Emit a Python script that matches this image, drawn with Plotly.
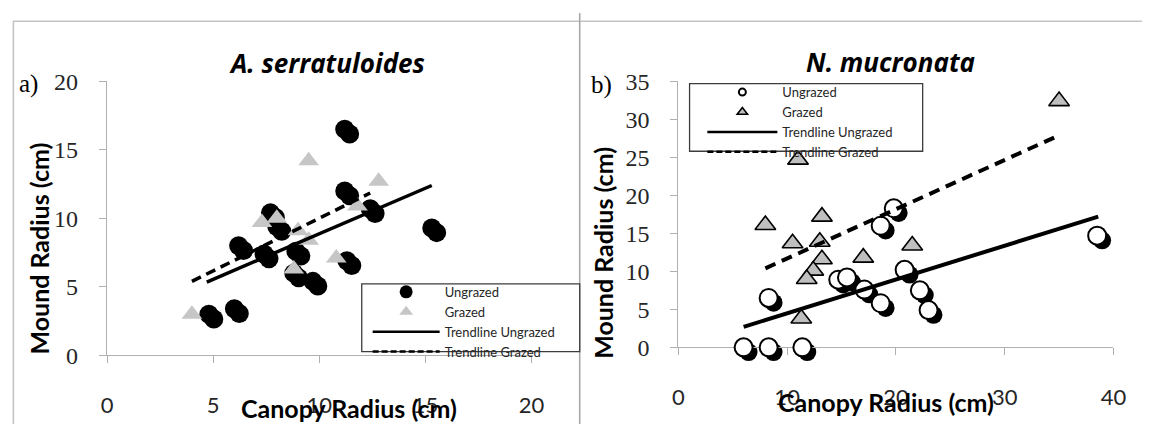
import plotly.graph_objects as go

# ---------------- data ----------------
# Panel a) A. serratuloides
a_ungrazed_x = [11.2, 11.2, 12.4, 15.3, 11.3, 9.7, 8.8, 8.9, 7.4, 6.2, 7.7, 8.0, 4.8, 6.0]
a_ungrazed_y = [16.5, 12.0, 10.7, 9.3, 6.9, 5.4, 6.0, 7.6, 7.4, 8.0, 10.4, 9.4, 3.0, 3.4]
a_grazed_x = [9.5, 12.8, 11.8, 7.3, 8.0, 9.0, 9.5, 10.8, 8.8, 4.0]
a_grazed_y = [14.2, 12.7, 10.9, 9.7, 10.0, 9.1, 8.4, 7.1, 6.3, 3.0]
a_trend_ungrazed_x = [4.7, 15.3]
a_trend_ungrazed_y = [5.35, 12.4]
a_trend_grazed_x = [4.0, 12.4]
a_trend_grazed_y = [5.4, 11.85]

# Panel b) N. mucronata
b_ungrazed_x = [6.0, 8.3, 11.4, 8.3, 14.7, 15.5, 17.1, 18.6, 18.6, 19.8, 20.8, 22.2, 23.0, 38.5]
b_ungrazed_y = [0.0, 0.0, 0.0, 6.5, 8.9, 9.2, 7.6, 5.8, 16.0, 18.3, 10.2, 7.5, 4.9, 14.7]
b_grazed_x = [35.0, 11.0, 8.0, 13.2, 10.5, 13.0, 13.2, 12.4, 11.8, 17.0, 21.5, 11.3]
b_grazed_y = [32.4, 24.7, 16.1, 17.2, 13.7, 13.9, 11.6, 10.1, 9.0, 11.8, 13.4, 3.8]
b_trend_ungrazed_x = [6.0, 38.6]
b_trend_ungrazed_y = [2.7, 17.2]
b_trend_grazed_x = [8.0, 35.0]
b_trend_grazed_y = [10.4, 27.9]

a_x_ticks = [0, 5, 10, 15, 20]
a_y_ticks = [0, 5, 10, 15, 20]
b_x_ticks = [0, 10, 20, 30, 40]
b_y_ticks = [0, 5, 10, 15, 20, 25, 30, 35]

legend_names = ["Ungrazed", "Grazed", "Trendline Ungrazed", "Trendline Grazed"]

# ---------------- layout geometry ----------------
W, H = 1155, 437
def px(xp):
    return xp / W
def py(yp):
    return 1 - yp / H

A_XDOM = [px(102.7), px(534.3)]
A_YDOM = [py(364.0), py(72.7)]
B_XDOM = [px(683.6), px(1126.0)]
B_YDOM = [py(355.5), py(72.7)]
SH_DX, SH_DY = 5, 5  # shadow offset in pixels

def shift(dom, d, total):
    return [dom[0] + d / total, dom[1] + d / total]

SANS = "Lato"
SERIF = "Liberation Serif"
TXT = "#262626"
AXC = "#b0b0b0"

fig = go.Figure()

# ---- shadows (subplots xy / x2y2: hidden axes shifted by a few pixels, drawn first) ----
fig.add_trace(go.Scatter(x=a_ungrazed_x, y=a_ungrazed_y, mode="markers", xaxis="x", yaxis="y",
                         marker=dict(symbol="circle", size=19, color="black"),
                         showlegend=False, cliponaxis=False, hoverinfo="skip"))
fig.add_trace(go.Scatter(x=b_ungrazed_x, y=b_ungrazed_y, mode="markers", xaxis="x2", yaxis="y2",
                         marker=dict(symbol="circle", size=18, color="black"),
                         showlegend=False, cliponaxis=False, hoverinfo="skip"))

# ---- panel a main (x3y3) ----
fig.add_trace(go.Scatter(x=a_ungrazed_x, y=a_ungrazed_y, mode="markers", xaxis="x3", yaxis="y3",
                         marker=dict(symbol="circle", size=19, color="black"),
                         showlegend=False, cliponaxis=False, name="Ungrazed"))
fig.add_trace(go.Scatter(x=a_grazed_x, y=a_grazed_y, mode="markers", xaxis="x3", yaxis="y3",
                         marker=dict(symbol="triangle-up", size=18, color="#c6c6c6"),
                         showlegend=False, cliponaxis=False, name="Grazed"))
fig.add_trace(go.Scatter(x=a_trend_ungrazed_x, y=a_trend_ungrazed_y, mode="lines", xaxis="x3", yaxis="y3",
                         line=dict(color="black", width=3.5), showlegend=False, cliponaxis=False))
fig.add_trace(go.Scatter(x=a_trend_grazed_x, y=a_trend_grazed_y, mode="lines", xaxis="x3", yaxis="y3",
                         line=dict(color="black", width=3.5, dash="10px,6px"), showlegend=False, cliponaxis=False))

# ---- panel b main (x4y4) ----
fig.add_trace(go.Scatter(x=b_ungrazed_x, y=b_ungrazed_y, mode="markers", xaxis="x4", yaxis="y4",
                         marker=dict(symbol="circle", size=18, color="white", line=dict(color="black", width=2)),
                         showlegend=False, cliponaxis=False, name="Ungrazed"))
fig.add_trace(go.Scatter(x=b_grazed_x, y=b_grazed_y, mode="markers", xaxis="x4", yaxis="y4",
                         marker=dict(symbol="triangle-up", size=18, color="#bfbfbf", line=dict(color="black", width=1.6)),
                         showlegend=False, cliponaxis=False, name="Grazed"))
fig.add_trace(go.Scatter(x=b_trend_ungrazed_x, y=b_trend_ungrazed_y, mode="lines", xaxis="x4", yaxis="y4",
                         line=dict(color="black", width=4), showlegend=False, cliponaxis=False))
fig.add_trace(go.Scatter(x=b_trend_grazed_x, y=b_trend_grazed_y, mode="lines", xaxis="x4", yaxis="y4",
                         line=dict(color="black", width=4, dash="11px,7px"), showlegend=False, cliponaxis=False))

# ---- legend entries ----
leg_a_styles = [
    dict(mode="markers", marker=dict(symbol="circle", size=13, color="black")),
    dict(mode="markers", marker=dict(symbol="triangle-up", size=12, color="#c6c6c6")),
    dict(mode="lines", line=dict(color="black", width=2.5)),
    dict(mode="lines", line=dict(color="black", width=2.5, dash="6px,3px")),
]
leg_b_styles = [
    dict(mode="markers", marker=dict(symbol="circle", size=7, color="white", line=dict(color="black", width=2))),
    dict(mode="markers", marker=dict(symbol="triangle-up", size=9, color="#bfbfbf", line=dict(color="black", width=1.6))),
    dict(mode="lines", line=dict(color="black", width=2.5)),
    dict(mode="lines", line=dict(color="black", width=2.5, dash="6px,3px")),
]
for name, st in zip(legend_names, leg_a_styles):
    fig.add_trace(go.Scatter(x=[None], y=[None], xaxis="x3", yaxis="y3", name=name, legend="legend", **st))
for name, st in zip(legend_names, leg_b_styles):
    fig.add_trace(go.Scatter(x=[None], y=[None], xaxis="x4", yaxis="y4", name=name, legend="legend2", **st))

def vis_x(dom, rng, ticks, anchor):
    return dict(domain=dom, range=rng, anchor=anchor, tickvals=ticks, showline=True, linecolor=AXC,
                linewidth=1.2, ticks="outside", ticklen=7, tickcolor=AXC, tickwidth=1.2,
                showgrid=False, zeroline=False, ticklabelstandoff=23, layer="below traces",
                tickfont=dict(family=SANS, size=22, color=TXT), fixedrange=True)

def vis_y(dom, rng, ticks, anchor):
    return dict(domain=dom, range=rng, anchor=anchor, tickvals=ticks, showline=True, linecolor=AXC,
                linewidth=1.2, ticks="outside", ticklen=7, tickcolor=AXC, tickwidth=1.2,
                showgrid=False, zeroline=False, ticklabelstandoff=16, layer="below traces",
                tickfont=dict(family=SERIF, size=24, color=TXT), fixedrange=True)

def hid(dom, rng, anchor):
    return dict(domain=dom, range=rng, anchor=anchor, visible=False, fixedrange=True)

A_XR, A_YR = [0, 20], [0, 20]
B_XR, B_YR = [0, 40], [0, 35]

legend_common = dict(xanchor="left", yanchor="top", bgcolor="rgba(255,255,255,0)",
                     borderwidth=0, font=dict(family=SANS, size=13, color=TXT),
                     tracegroupgap=0, traceorder="normal")

fig.update_layout(
    width=W, height=H, autosize=False,
    margin=dict(l=0, r=0, t=0, b=0, pad=0),
    paper_bgcolor="white", plot_bgcolor="rgba(0,0,0,0)",
    xaxis=hid(shift(A_XDOM, SH_DX, W), A_XR, "y"),
    yaxis=hid(shift(A_YDOM, -SH_DY, H), A_YR, "x"),
    xaxis2=hid(shift(B_XDOM, SH_DX, W), B_XR, "y2"),
    yaxis2=hid(shift(B_YDOM, -SH_DY, H), B_YR, "x2"),
    xaxis3=vis_x(A_XDOM, A_XR, a_x_ticks, "y3"),
    yaxis3=vis_y(A_YDOM, A_YR, a_y_ticks, "x3"),
    xaxis4=vis_x(B_XDOM, B_XR, b_x_ticks, "y4"),
    yaxis4=vis_y(B_YDOM, B_YR, b_y_ticks, "x4"),
    legend=dict(x=px(367.7), y=py(280.6), itemwidth=67, **legend_common),
    legend2=dict(x=px(708), y=py(68.2), itemwidth=70, **legend_common),
    showlegend=True,
)

# panel frame lines
frame = dict(type="line", xref="paper", yref="paper", line=dict(color="#c4c4c4", width=1.6), layer="below")
fig.add_shape(x0=px(7), x1=1, y0=py(8.7), y1=py(8.7), **frame)
fig.add_shape(x0=px(7.5), x1=px(7.5), y0=0, y1=py(8.7), **frame)
fig.add_shape(type="line", xref="paper", yref="paper", x0=px(583.3), x1=px(583.3), y0=0, y1=1,
              line=dict(color="#a8a8a8", width=1.6), layer="below")

# legend boxes
box = dict(type="rect", xref="paper", yref="paper", line=dict(color="#3c3c3c", width=1.3),
           fillcolor="white", layer="above")
fig.add_shape(x0=px(361.7), x1=px(583.3), y0=py(360), y1=py(288), **box)
fig.add_shape(x0=px(695), x1=px(932), y0=py(147), y1=py(75), **box)

def ann(text, x, y, font, angle=0, yanchor="middle"):
    fig.add_annotation(text=text, x=px(x), y=py(y), xref="paper", yref="paper", showarrow=False,
                       xanchor="center", yanchor=yanchor, textangle=angle, font=font, borderpad=0)

TITLE_F = dict(family="Open Sans", size=26, color="black")
AXT_F = dict(family=SANS, size=25, color="black")
LAB_F = dict(family=SERIF, size=25, color="black")

ann("<b><i>A. serratuloides</i></b>", 326.5, 53, TITLE_F)
ann("<b><i>N. mucronata</i></b>", 899, 52, TITLE_F)
ann("a)", 23, 75, LAB_F)
ann("b)", 605.7, 77, LAB_F)
ann("<b>Canopy Radius (cm)</b>", 348.5, 437, AXT_F, yanchor="bottom")
ann("<b>Canopy Radius (cm)</b>", 894.4, 431, AXT_F, yanchor="bottom")
ann("<b>Mound Radius (cm)</b>", 34, 250, AXT_F, -90)
ann("<b>Mound Radius (cm)</b>", 607, 255, AXT_F, -90)

fig.write_html("out.html")
